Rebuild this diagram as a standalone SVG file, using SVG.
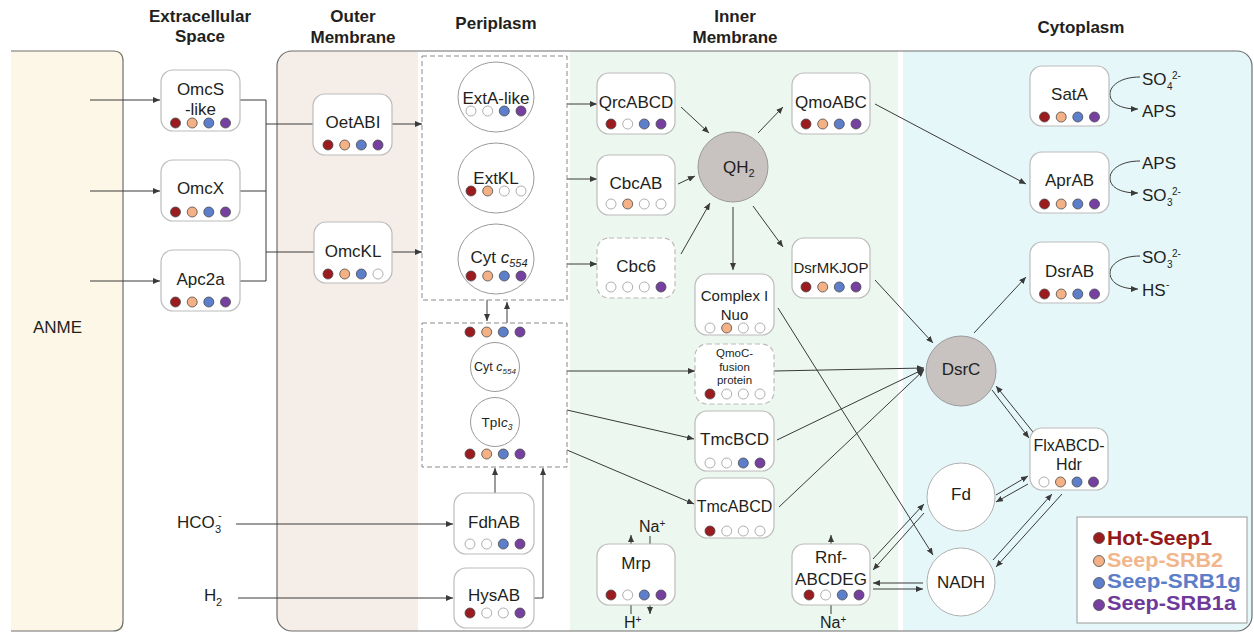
<svg xmlns="http://www.w3.org/2000/svg" width="1254" height="632" viewBox="0 0 1254 632">
<style>
.hd{font-family:"Liberation Sans",Arial,sans-serif;font-weight:bold;font-size:17px;fill:#231f20;text-anchor:middle}
.t{font-family:"Liberation Sans",Arial,sans-serif;font-size:17px;fill:#231f20;text-anchor:middle}
.ts{font-family:"Liberation Sans",Arial,sans-serif;font-size:17px;fill:#231f20}
.sm{font-family:"Liberation Sans",Arial,sans-serif;font-size:10px;fill:#231f20}
.box{fill:#fff;stroke:#bcbcbc;stroke-width:1.2}
.dash{stroke-dasharray:5 3}
.pbox{fill:none;stroke:#8a8a8a;stroke-width:1;stroke-dasharray:5 3}
.c{stroke:#3a3a3a;stroke-width:1;fill:none}
.a{marker-end:url(#ah)}
.d{stroke:#4a4a4a;stroke-width:0.8}
.R{fill:#9b1b1f}.O{fill:#f3b185}.B{fill:#5d7fcb}.P{fill:#7640a0}.E{fill:#fff;stroke:#9a9a9a}
.lg{font-family:"Liberation Sans",Arial,sans-serif;font-weight:bold;font-size:20px}
</style>
<defs>
<marker id="ah" markerWidth="7" markerHeight="6" refX="7" refY="3" orient="auto" markerUnits="userSpaceOnUse">
<path d="M0,0 L7,3 L0,6 z" fill="#3a3a3a"/>
</marker>
<clipPath id="cellclip"><rect x="277" y="51" width="975" height="580" rx="15"/></clipPath>
</defs>

<g id="background">
<rect x="0" y="0" width="1254" height="632" fill="#fff"/>
<rect x="11" y="51" width="112" height="580" fill="#fdf7e7"/>
<path d="M11,51 H113 Q123,51 123,61 V621 Q123,631 113,631 H11" fill="none" stroke="#6f6f6f" stroke-width="1.2"/>
<g clip-path="url(#cellclip)">
<rect x="277" y="51" width="141" height="580" fill="#f5eee8"/>
<rect x="418" y="51" width="152" height="580" fill="#fff"/>
<rect x="570" y="51" width="328" height="580" fill="#ecf7ef"/>
<rect x="898" y="51" width="5" height="580" fill="#fff"/>
<rect x="903" y="51" width="349" height="580" fill="#e6f7f9"/>
</g>
<rect x="277" y="51" width="975" height="580" rx="15" fill="none" stroke="#6f6f6f" stroke-width="1.2"/>
</g>

<g id="headers">
<text class="hd" x="200" y="22">Extracellular</text>
<text class="hd" x="200" y="42">Space</text>
<text class="hd" x="353" y="22">Outer</text>
<text class="hd" x="353" y="43">Membrane</text>
<text class="hd" x="496" y="29">Periplasm</text>
<text class="hd" x="735" y="22">Inner</text>
<text class="hd" x="735" y="43">Membrane</text>
<text class="hd" x="1081" y="33">Cytoplasm</text>
</g>

<g id="ANME"><text class="ts" x="33" y="333">ANME</text></g>

<g id="connectors">
<path class="c a" d="M90,100 H160"/>
<path class="c a" d="M90,191 H160"/>
<path class="c a" d="M90,281 H160"/>
<path class="c" d="M240,100 H266 M240,191 H266 M240,281 H266 M266,100 V281 M266,124 H313 M266,252 H314"/>
<path class="c a" d="M392,124 H422"/>
<path class="c a" d="M392,252 H422"/>
<path class="c a" d="M487,300 V321"/>
<path class="c a" d="M507,323 V302"/>
<path class="c a" d="M567,104 H597"/>
<path class="c a" d="M567,179 H597"/>
<path class="c a" d="M567,264 H597"/>
<path class="c a" d="M681,107 L709,133"/>
<path class="c a" d="M678,184 L695,176"/>
<path class="c a" d="M681,254 L710,203"/>
<path class="c a" d="M758,133 L783,107"/>
<path class="c a" d="M753,206 L783,247"/>
<path class="c a" d="M733,207 V270"/>
<path class="c a" d="M875,104 L1026,184"/>
<path class="c a" d="M875,280 L933,343"/>
<path class="c a" d="M974,333 L1026,277"/>
<path class="c a" d="M567,371 H695"/>
<path class="c a" d="M567,410 L694,439"/>
<path class="c a" d="M567,450 L694,504"/>
<path class="c a" d="M774,371 L924,368"/>
<path class="c a" d="M777,440 L924,369"/>
<path class="c a" d="M779,507 L924,370"/>
<path class="c a" d="M778,308 L933,555"/>
<path class="c a" d="M992,390 L1029,438"/>
<path class="c a" d="M1033,432 L996,386"/>
<path class="c a" d="M996,495 L1028,476"/>
<path class="c a" d="M1028,484 L996,502"/>
<path class="c a" d="M993,560 L1052,494"/>
<path class="c a" d="M1062,494 L996,567"/>
<path class="c a" d="M873,559 L924,504"/>
<path class="c a" d="M924,513 L873,570"/>
<path class="c a" d="M923,583 L873,583"/>
<path class="c a" d="M873,589 L923,589"/>
<path class="c a" d="M495,493 V468"/>
<path class="c a" d="M534,598 H543 V468"/>
<path class="c a" d="M236,524 H453"/>
<path class="c a" d="M238,598 H453"/>
<path class="c a" d="M631,544 V535"/>
<path class="c" d="M650,536 V544"/>
<path class="c" d="M631,605 V614"/>
<path class="c a" d="M650,605 V614"/>
<path class="c a" d="M831,544 V535"/>
<path class="c" d="M831,605 V614"/>
<path class="c a" d="M1140,77 C1120,77 1110,86 1110,94 C1110,102 1118,109 1138,109"/>
<path class="c a" d="M1140,161 C1120,161 1110,170 1110,178 C1110,186 1118,193 1138,193"/>
<path class="c a" d="M1140,256 C1120,256 1110,265 1110,273 C1110,281 1118,289 1138,289"/>
</g>

<g id="inputs">
<text class="ts" x="177" y="528">HCO</text>
<text class="sm" x="215" y="533" style="font-size:11px">3</text>
<text class="sm" x="218" y="519" style="font-size:11px">-</text>
<text class="ts" x="204" y="601">H</text>
<text class="sm" x="216" y="606" style="font-size:11px">2</text>
</g>

<g id="OmcS-like">
<rect class="box" x="161" y="70" width="79" height="61" rx="12"/>
<text class="t" x="200.5" y="95">OmcS</text><text class="t" x="200.5" y="115">-like</text>
<circle class="d R" cx="175.5" cy="123" r="5"/><circle class="d O" cx="192.2" cy="123" r="5"/><circle class="d B" cx="208.8" cy="123" r="5"/><circle class="d P" cx="225.5" cy="123" r="5"/>
</g>
<g id="OmcX">
<rect class="box" x="161" y="160" width="79" height="61" rx="12"/>
<text class="t" x="200.5" y="194">OmcX</text>
<circle class="d R" cx="175.5" cy="212" r="5"/><circle class="d O" cx="192.2" cy="212" r="5"/><circle class="d B" cx="208.8" cy="212" r="5"/><circle class="d P" cx="225.5" cy="212" r="5"/>
</g>
<g id="Apc2a">
<rect class="box" x="161" y="250" width="79" height="61" rx="12"/>
<text class="t" x="200.5" y="285">Apc2a</text>
<circle class="d R" cx="175.5" cy="302" r="5"/><circle class="d O" cx="192.2" cy="302" r="5"/><circle class="d B" cx="208.8" cy="302" r="5"/><circle class="d P" cx="225.5" cy="302" r="5"/>
</g>
<g id="OetABI">
<rect class="box" x="313" y="94" width="79" height="61" rx="12"/>
<text class="t" x="353" y="128">OetABI</text>
<circle class="d R" cx="328" cy="145" r="5"/><circle class="d O" cx="344.7" cy="145" r="5"/><circle class="d B" cx="361.3" cy="145" r="5"/><circle class="d P" cx="378" cy="145" r="5"/>
</g>
<g id="OmcKL">
<rect class="box" x="314" y="222" width="78" height="61" rx="12"/>
<text class="t" x="353" y="257">OmcKL</text>
<circle class="d R" cx="328" cy="274" r="5"/><circle class="d O" cx="344.7" cy="274" r="5"/><circle class="d B" cx="361.3" cy="274" r="5"/><circle class="d E" cx="378" cy="274" r="5"/>
</g>

<g id="periplasm-upper">
<rect class="pbox" x="422" y="56" width="145" height="244"/>
</g>
<g id="ExtA-like">
<ellipse cx="496" cy="97" rx="38" ry="35" fill="#fff" stroke="#9a9a9a" stroke-width="1"/>
<text class="t" x="496" y="104">ExtA-like</text>
<circle class="d E" cx="471" cy="111" r="5"/><circle class="d E" cx="487.7" cy="111" r="5"/><circle class="d B" cx="504.3" cy="111" r="5"/><circle class="d P" cx="521" cy="111" r="5"/>
</g>
<g id="ExtKL">
<ellipse cx="496" cy="178" rx="38" ry="35" fill="#fff" stroke="#9a9a9a" stroke-width="1"/>
<text class="t" x="496" y="184">ExtKL</text>
<circle class="d R" cx="471" cy="191" r="5"/><circle class="d O" cx="487.7" cy="191" r="5"/><circle class="d E" cx="504.3" cy="191" r="5"/><circle class="d E" cx="521" cy="191" r="5"/>
</g>
<g id="CytC554-upper">
<ellipse cx="496" cy="259" rx="38" ry="35" fill="#fff" stroke="#9a9a9a" stroke-width="1"/>
<text class="t" x="499" y="263">Cyt <tspan font-style="italic">c</tspan><tspan font-style="italic" font-size="11" dy="4">554</tspan></text>
<circle class="d R" cx="471" cy="276" r="5"/><circle class="d O" cx="487.7" cy="276" r="5"/><circle class="d B" cx="504.3" cy="276" r="5"/><circle class="d P" cx="521" cy="276" r="5"/>
</g>

<g id="periplasm-lower">
<rect class="pbox" x="422" y="323" width="145" height="144"/>
<circle class="d R" cx="470" cy="332" r="5"/><circle class="d O" cx="486.7" cy="332" r="5"/><circle class="d B" cx="503.3" cy="332" r="5"/><circle class="d P" cx="520" cy="332" r="5"/>
<circle class="d R" cx="470" cy="454" r="5"/><circle class="d O" cx="486.7" cy="454" r="5"/><circle class="d B" cx="503.3" cy="454" r="5"/><circle class="d P" cx="520" cy="454" r="5"/>
</g>
<g id="CytC554-lower">
<circle cx="495" cy="367" r="24.5" fill="#fff" stroke="#9a9a9a" stroke-width="1"/>
<text class="t" x="495" y="371" style="font-size:12.5px">Cyt <tspan font-style="italic">c</tspan><tspan font-style="italic" font-size="8" dy="3">554</tspan></text>
</g>
<g id="TpIc3">
<circle cx="495" cy="422" r="24.5" fill="#fff" stroke="#9a9a9a" stroke-width="1"/>
<text class="t" x="497" y="427" style="font-size:13.5px">TpI<tspan font-style="italic">c</tspan><tspan font-style="italic" font-size="8.5" dy="3">3</tspan></text>
</g>
<g id="FdhAB">
<rect class="box" x="454" y="493" width="80" height="61" rx="12"/>
<text class="t" x="494" y="528">FdhAB</text>
<circle class="d E" cx="470" cy="544" r="5"/><circle class="d E" cx="486.7" cy="544" r="5"/><circle class="d B" cx="503.3" cy="544" r="5"/><circle class="d P" cx="520" cy="544" r="5"/>
</g>
<g id="HysAB">
<rect class="box" x="454" y="568" width="80" height="60" rx="12"/>
<text class="t" x="494" y="601">HysAB</text>
<circle class="d R" cx="470" cy="613" r="5"/><circle class="d E" cx="486.7" cy="613" r="5"/><circle class="d E" cx="503.3" cy="613" r="5"/><circle class="d P" cx="520" cy="613" r="5"/>
</g>

<g id="QrcABCD">
<rect class="box" x="597" y="73" width="78" height="61" rx="12"/>
<text class="t" x="636" y="108">QrcABCD</text>
<circle class="d R" cx="611" cy="124" r="5"/><circle class="d E" cx="627.7" cy="124" r="5"/><circle class="d B" cx="644.3" cy="124" r="5"/><circle class="d P" cx="661" cy="124" r="5"/>
</g>
<g id="CbcAB">
<rect class="box" x="597" y="155" width="78" height="60" rx="12"/>
<text class="t" x="636" y="189">CbcAB</text>
<circle class="d E" cx="611" cy="204" r="5"/><circle class="d O" cx="627.7" cy="204" r="5"/><circle class="d E" cx="644.3" cy="204" r="5"/><circle class="d E" cx="661" cy="204" r="5"/>
</g>
<g id="Cbc6">
<rect class="box dash" x="597" y="238" width="78" height="60" rx="12"/>
<text class="t" x="636" y="272">Cbc6</text>
<circle class="d E" cx="611" cy="287" r="5"/><circle class="d E" cx="627.7" cy="287" r="5"/><circle class="d E" cx="644.3" cy="287" r="5"/><circle class="d P" cx="661" cy="287" r="5"/>
</g>
<g id="QH2">
<circle cx="733" cy="167" r="35" fill="#c8c3c1" stroke="#9a9a9a" stroke-width="1"/>
<text class="ts" x="723" y="173">QH<tspan font-size="11" dy="4">2</tspan></text>
</g>
<g id="QmoABC">
<rect class="box" x="792" y="73" width="78" height="61" rx="12"/>
<text class="t" x="831" y="108">QmoABC</text>
<circle class="d R" cx="806" cy="124" r="5"/><circle class="d O" cx="822.7" cy="124" r="5"/><circle class="d B" cx="839.3" cy="124" r="5"/><circle class="d P" cx="856" cy="124" r="5"/>
</g>
<g id="DsrMKJOP">
<rect class="box" x="792" y="238" width="78" height="60" rx="12"/>
<text class="t" x="831" y="273" style="font-size:15px">DsrMKJOP</text>
<circle class="d R" cx="806" cy="287" r="5"/><circle class="d O" cx="822.7" cy="287" r="5"/><circle class="d B" cx="839.3" cy="287" r="5"/><circle class="d P" cx="856" cy="287" r="5"/>
</g>
<g id="ComplexI">
<rect class="box" x="695" y="274" width="79" height="61" rx="12"/>
<text class="t" x="734.5" y="301" style="font-size:15px">Complex I</text>
<text class="t" x="734.5" y="320" style="font-size:15px">Nuo</text>
<circle class="d E" cx="710" cy="328" r="5"/><circle class="d O" cx="726.7" cy="328" r="5"/><circle class="d E" cx="743.3" cy="328" r="5"/><circle class="d E" cx="760" cy="328" r="5"/>
</g>
<g id="QmoC-fusion">
<rect class="box dash" x="695" y="344" width="79" height="60" rx="12"/>
<text class="t" x="734.5" y="357" style="font-size:11.5px">QmoC-</text>
<text class="t" x="734.5" y="371" style="font-size:11.5px">fusion</text>
<text class="t" x="734.5" y="384" style="font-size:11.5px">protein</text>
<circle class="d R" cx="710" cy="394" r="5"/><circle class="d E" cx="726.7" cy="394" r="5"/><circle class="d E" cx="743.3" cy="394" r="5"/><circle class="d E" cx="760" cy="394" r="5"/>
</g>
<g id="TmcBCD">
<rect class="box" x="695" y="411" width="79" height="60" rx="12"/>
<text class="t" x="734.5" y="445">TmcBCD</text>
<circle class="d E" cx="710" cy="463" r="5"/><circle class="d E" cx="726.7" cy="463" r="5"/><circle class="d B" cx="743.3" cy="463" r="5"/><circle class="d P" cx="760" cy="463" r="5"/>
</g>
<g id="TmcABCD">
<rect class="box" x="695" y="478" width="79" height="60" rx="12"/>
<text class="t" x="734.5" y="512" style="font-size:16px">TmcABCD</text>
<circle class="d R" cx="710" cy="531" r="5"/><circle class="d E" cx="726.7" cy="531" r="5"/><circle class="d E" cx="743.3" cy="531" r="5"/><circle class="d E" cx="760" cy="531" r="5"/>
</g>
<g id="Mrp">
<rect class="box" x="597" y="544" width="78" height="61" rx="12"/>
<text class="t" x="636" y="569">Mrp</text>
<circle class="d R" cx="611" cy="595" r="5"/><circle class="d E" cx="627.7" cy="595" r="5"/><circle class="d B" cx="644.3" cy="595" r="5"/><circle class="d P" cx="661" cy="595" r="5"/>
<text class="ts" x="639" y="532" style="font-size:16px">Na<tspan font-size="10" dy="-5">+</tspan></text>
<text class="ts" x="624" y="628" style="font-size:16px">H<tspan font-size="10" dy="-5">+</tspan></text>
</g>
<g id="Rnf-ABCDEG">
<rect class="box" x="792" y="544" width="78" height="61" rx="12"/>
<text class="t" x="831" y="563">Rnf-</text>
<text class="t" x="831" y="585">ABCDEG</text>
<circle class="d R" cx="809" cy="595" r="5"/><circle class="d E" cx="825.7" cy="595" r="5"/><circle class="d B" cx="842.3" cy="595" r="5"/><circle class="d P" cx="859" cy="595" r="5"/>
<text class="ts" x="820" y="628" style="font-size:16px">Na<tspan font-size="10" dy="-5">+</tspan></text>
</g>

<g id="DsrC">
<circle cx="961" cy="371" r="35" fill="#c8c3c1" stroke="#9a9a9a" stroke-width="1"/>
<text class="t" x="961" y="375">DsrC</text>
</g>
<g id="Fd">
<circle cx="961" cy="497" r="34" fill="#fff" stroke="#b0b0b0" stroke-width="1"/>
<text class="t" x="961" y="500">Fd</text>
</g>
<g id="NADH">
<circle cx="961" cy="582" r="34" fill="#fff" stroke="#b0b0b0" stroke-width="1"/>
<text class="t" x="961" y="588">NADH</text>
</g>
<g id="FlxABCD-Hdr">
<rect class="box" x="1030" y="428" width="78" height="62" rx="12"/>
<text class="t" x="1069" y="451" style="font-size:16px">FlxABCD-</text>
<text class="t" x="1069" y="470" style="font-size:16px">Hdr</text>
<circle class="d E" cx="1044" cy="482" r="5"/><circle class="d O" cx="1060.5" cy="482" r="5"/><circle class="d B" cx="1077" cy="482" r="5"/><circle class="d P" cx="1093.5" cy="482" r="5"/>
</g>
<g id="SatA">
<rect class="box" x="1030" y="66" width="79" height="60" rx="12"/>
<text class="t" x="1069.5" y="100">SatA</text>
<circle class="d R" cx="1044.5" cy="117" r="5"/><circle class="d O" cx="1061.2" cy="117" r="5"/><circle class="d B" cx="1077.8" cy="117" r="5"/><circle class="d P" cx="1094.5" cy="117" r="5"/>
<text class="ts" x="1142" y="85">SO</text><text class="sm" x="1167" y="90">4</text><text class="sm" x="1172" y="79">2-</text>
<text class="ts" x="1142" y="117">APS</text>
</g>
<g id="AprAB">
<rect class="box" x="1030" y="152" width="79" height="61" rx="12"/>
<text class="t" x="1069.5" y="186">AprAB</text>
<circle class="d R" cx="1044.5" cy="204" r="5"/><circle class="d O" cx="1061.2" cy="204" r="5"/><circle class="d B" cx="1077.8" cy="204" r="5"/><circle class="d P" cx="1094.5" cy="204" r="5"/>
<text class="ts" x="1142" y="169">APS</text>
<text class="ts" x="1142" y="201">SO</text><text class="sm" x="1167" y="206">3</text><text class="sm" x="1172" y="195">2-</text>
</g>
<g id="DsrAB">
<rect class="box" x="1030" y="242" width="79" height="61" rx="12"/>
<text class="t" x="1069.5" y="277">DsrAB</text>
<circle class="d R" cx="1044.5" cy="294" r="5"/><circle class="d O" cx="1061.2" cy="294" r="5"/><circle class="d B" cx="1077.8" cy="294" r="5"/><circle class="d P" cx="1094.5" cy="294" r="5"/>
<text class="ts" x="1142" y="263">SO</text><text class="sm" x="1167" y="268">3</text><text class="sm" x="1172" y="257">2-</text>
<text class="ts" x="1142" y="296">HS</text><text class="sm" x="1166" y="288">-</text>
</g>

<g id="legend">
<rect x="1077" y="517" width="170" height="106" fill="#fff" stroke="#9a9a9a" stroke-width="1"/>
<circle class="d R" cx="1099" cy="538" r="5.5"/>
<text class="lg" x="1107" y="545" fill="#95191c" textLength="105" lengthAdjust="spacingAndGlyphs">Hot-Seep1</text>
<circle class="d O" cx="1099" cy="561" r="5.5"/>
<text class="lg" x="1107" y="567" fill="#f2b68c" textLength="116" lengthAdjust="spacingAndGlyphs">Seep-SRB2</text>
<circle class="d B" cx="1099" cy="583" r="5.5"/>
<text class="lg" x="1107" y="588" fill="#5c7dc8" textLength="134" lengthAdjust="spacingAndGlyphs">Seep-SRB1g</text>
<circle class="d P" cx="1099" cy="605" r="5.5"/>
<text class="lg" x="1107" y="610" fill="#6e3a9a" textLength="129" lengthAdjust="spacingAndGlyphs">Seep-SRB1a</text>
</g>
</svg>
